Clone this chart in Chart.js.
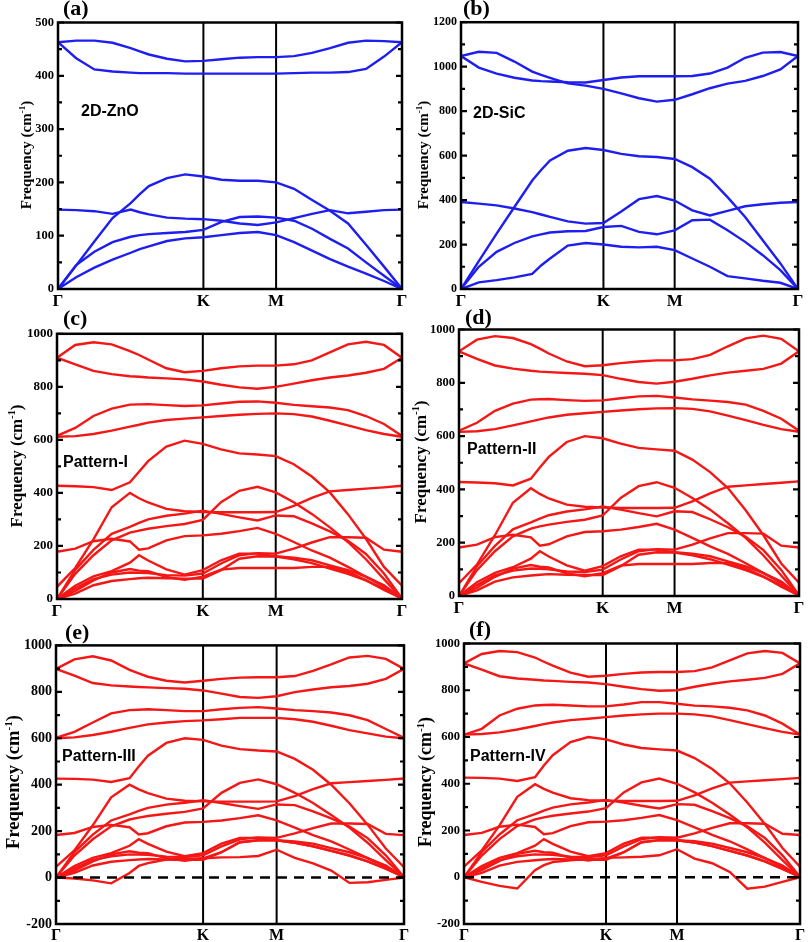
<!DOCTYPE html>
<html><head><meta charset="utf-8">
<script src="https://cdn.jsdelivr.net/npm/chart.js@4.4.1/dist/chart.umd.min.js"></script>
<style>
html,body{margin:0;padding:0;background:#fff;}
body{position:relative;width:808px;height:942px;overflow:hidden;}
canvas{position:absolute;}
.t{position:absolute;white-space:nowrap;line-height:1;color:#000;}
.pl{font-family:'Liberation Serif','Times New Roman',serif;font-weight:bold;}
.il{font-family:'Liberation Sans',Arial,sans-serif;font-weight:bold;}
.yt{font-family:'Liberation Serif','Times New Roman',serif;font-weight:bold;transform:translate(-50%,-50%) rotate(-90deg);}
</style></head><body>
<script>
// ---- k-path sample positions (Γ=0, K=1, M=1.5, Γ=2.366) ----
const XPOS = [0,0.125,0.25,0.375,0.5,0.5625,0.625,0.75,0.875,1, 1.125,1.25,1.375,1.5, 1.6237,1.7474,1.8711,1.9949,2.1186,2.2423,2.366];
const X_TICK_POS = [0, 1, 1.5, 2.366];
const X_TICK_LABELS = ['Γ','K','M','Γ'];

// ---- (a) 2D-ZnO ----
const zno1 = [463,466,466,462,452,446,440,432,427,428, 431,434,435,435, 437,443,452,462,466,465,463];
const zno2 = [463,433,412,408,406,405,405,405,404,404, 404,404,404,404, 405,406,406,407,413,436,463];
const zno3 = [0,44,89,133,161,178,193,208,215,211, 205,203,203,200, 188,167,147,123,83,42,0];
const zno4 = [149,148,146,141,149,144,140,134,132,131, 128,123,120,125, 133,141,148,142,145,148,149];
const zno5 = [0,45,70,88,98,101,103,105,107,111, 126,135,136,134, 128,113,94,76,50,25,0];
const zno6 = [0,22,40,55,68,75,80,90,95,97, 101,105,107,101, 88,72,56,42,29,15,0];

// ---- (b) 2D-SiC ----
const sic1 = [1048,1067,1062,1023,978,963,950,925,915,900, 880,858,843,851, 876,903,924,936,958,988,1048];
const sic2 = [1048,996,969,950,938,935,933,930,929,940, 951,957,957,957, 958,969,996,1040,1063,1066,1048];
const sic3 = [0,125,249,369,488,535,578,622,634,625, 608,597,594,585, 548,496,413,324,219,115,0];
const sic4 = [391,384,376,362,346,335,324,304,294,297, 349,404,418,398, 354,331,351,372,381,388,391];
const sic5 = [0,100,167,207,237,246,254,260,261,279, 284,257,246,264, 309,312,264,212,152,85,0];
const sic6 = [0,30,40,52,68,106,137,195,207,200, 190,187,190,175, 137,100,58,48,37,28,0];

// ---- (c) Pattern-I ----
const p1_1 = [910,958,968,960,935,920,903,870,855,860, 870,877,880,880, 885,900,930,960,970,958,910];
const p1_2 = [910,885,860,848,840,838,835,832,828,820, 808,798,793,800, 812,825,835,843,853,868,910];
const p1_3 = [615,645,690,718,733,734,735,731,728,730, 737,744,745,740, 732,727,722,712,690,660,615];
const p1_4 = [612,614,622,635,650,657,665,675,680,685, 690,695,698,700, 697,688,672,655,637,622,612];
const p1_5 = [427,425,422,411,440,480,520,575,597,585, 564,549,545,539, 508,462,402,320,227,121,50];
const p1_6 = [46,117,225,346,400,380,364,340,331,328, 327,327,327,328, 351,381,406,411,416,421,427];
const p1_7 = [0,110,185,246,272,287,300,314,322,333, 321,308,296,315, 312,285,255,220,170,96,2];
const p1_8 = [0,95,165,221,250,258,265,275,283,298, 365,408,423,402, 365,321,270,215,150,75,2];
const p1_9 = [178,190,218,227,217,186,191,221,237,240, 246,256,268,246, 215,183,156,121,84,46,2];
const p1_10 = [0,50,85,105,137,165,145,112,92,109, 146,171,171,161, 156,146,127,109,84,52,2];
const p1_11 = [0,30,70,100,113,107,105,83,72,84, 111,117,117,117, 117,121,121,102,71,34,2];
const p1_12 = [0,20,52,68,75,78,80,78,77,77, 109,152,161,160, 150,135,115,95,70,38,2];
const p1_13 = [0,40,75,92,100,99,98,90,88,96, 134,165,173,171, 190,213,233,233,231,186,178];

// ---- (d) Pattern-II ----
const p2_1 = [918,962,975,968,945,928,910,880,862,866, 874,880,884,884, 889,905,937,967,977,965,918];
const p2_2 = [918,890,865,853,845,842,840,837,834,829, 815,803,797,804, 815,828,838,845,852,872,918];
const p2_3 = [620,650,695,722,737,738,739,735,732,734, 742,749,751,745, 738,733,728,718,695,665,620];
const p2_4 = [616,618,626,640,655,663,670,680,686,691, 696,701,704,705, 702,693,677,660,642,626,616];
const p2_5 = [428,426,423,415,440,482,522,578,600,592, 572,556,550,545, 512,465,405,322,228,122,50];
const p2_6 = [48,118,228,350,404,383,366,343,335,332, 330,330,330,331, 355,385,410,415,420,425,430];
const p2_7 = [0,112,188,250,276,290,303,317,325,336, 324,311,299,318, 315,288,258,222,172,98,2];
const p2_8 = [0,97,168,224,253,261,268,278,286,302, 368,412,427,406, 368,324,273,218,152,77,2];
const p2_9 = [182,193,221,230,220,189,194,224,240,243, 249,259,271,249, 218,186,158,123,86,48,2];
const p2_10 = [0,52,87,108,140,168,148,115,95,112, 149,174,174,164, 159,149,130,111,86,54,2];
const p2_11 = [0,31,72,103,116,110,107,85,74,86, 114,120,120,120, 120,124,124,104,73,35,2];
const p2_12 = [0,21,54,70,77,80,82,80,79,79, 112,155,164,163, 153,138,118,97,72,40,2];
const p2_13 = [0,41,77,95,103,102,100,92,90,99, 137,168,176,174, 193,216,236,236,234,189,182];

// ---- (e) Pattern-III ----
const p3_1 = [899,940,953,935,895,880,865,848,840,848, 856,861,863,863, 868,890,918,948,955,942,899];
const p3_2 = [899,870,838,828,823,821,819,816,813,806, 792,778,774,781, 799,810,820,825,835,856,899];
const p3_3 = [602,628,668,707,721,723,725,721,717,717, 725,731,734,728, 721,717,711,699,678,640,602];
const p3_4 = [600,604,614,628,645,652,660,668,674,677, 682,688,688,688, 682,671,654,635,621,607,600];
const p3_5 = [426,425,422,412,428,478,525,580,600,593, 568,553,547,543, 511,464,400,320,228,125,45];
const p3_6 = [46,117,225,346,400,380,364,340,331,328, 327,327,327,328, 351,381,406,411,416,421,427];
const p3_7 = [0,110,185,246,272,287,300,314,322,333, 321,308,296,315, 312,285,255,220,170,96,2];
const p3_8 = [0,95,165,221,250,258,265,275,283,298, 365,408,423,402, 365,321,270,215,150,75,2];
const p3_9 = [183,192,218,227,217,186,191,221,237,240, 246,256,268,246, 215,183,156,121,84,46,2];
const p3_10 = [0,50,85,105,137,165,145,112,92,105, 146,171,171,161, 156,146,127,109,84,52,2];
const p3_11 = [0,30,70,100,113,107,105,83,72,83, 87,88,93,120, 85,61,30,-23,-20,-10,0];
const p3_12 = [0,20,52,68,75,78,80,78,77,77, 109,152,161,160, 150,135,115,95,70,38,2];
const p3_13 = [0,40,75,92,100,99,98,90,88,96, 134,165,173,171, 190,213,233,233,231,188,183];
const p3_14 = [0,-4,-12,-25,20,50,62,78,80,83, 109,152,161,160, 150,135,115,95,70,38,2];

// ---- (f) Pattern-IV ----
const p4_1 = [915,955,968,963,940,922,905,875,858,862, 870,876,878,878, 882,898,928,958,968,960,915];
const p4_2 = [915,888,860,850,845,842,840,836,833,826, 815,805,798,800, 815,828,838,845,853,870,915];
const p4_3 = [610,635,692,721,735,737,738,735,731,731, 739,749,749,742, 734,731,725,714,692,657,610];
const p4_4 = [610,613,620,632,647,655,662,672,678,685, 692,697,700,700, 697,688,672,655,638,622,610];
const p4_5 = [426,425,422,412,428,478,522,578,600,590, 568,553,547,542, 510,463,402,320,228,125,45];
const p4_6 = [45,115,222,344,398,378,362,338,330,327, 326,326,326,327, 350,380,405,410,415,420,425];
const p4_7 = [0,108,183,244,270,285,298,312,320,331, 319,306,294,313, 310,283,253,218,168,94,2];
const p4_8 = [0,93,163,219,248,256,263,273,281,296, 363,406,422,400, 363,319,268,213,148,73,2];
const p4_9 = [181,190,216,225,215,184,189,219,235,238, 244,254,266,244, 213,181,154,119,82,44,2];
const p4_10 = [0,48,83,103,135,163,143,110,90,103, 144,169,169,159, 154,144,125,107,82,50,2];
const p4_11 = [0,30,70,100,113,107,105,83,72,83, 85,88,94,120, 80,60,23,-49,-40,-20,0];
const p4_12 = [0,19,50,66,73,76,78,76,75,75, 107,150,159,158, 148,133,113,93,68,36,2];
const p4_13 = [0,39,73,90,98,97,96,88,86,94, 132,163,171,169, 188,211,231,231,229,186,181];
const p4_14 = [0,-20,-37,-48,30,52,65,73,78,80, 107,150,159,158, 148,133,113,93,68,36,2];

const BLUE = 'rgb(30,30,240)';
const RED = 'rgb(245,22,22)';

const PANELS = [
  {bands:[zno1,zno2,zno3,zno4,zno5,zno6], color:BLUE, ymin:0, ymax:500, step:100, minor:50,
   area:{l:58,r:402,t:21,b:289}, tick:12.5, xlab:17, zero:false},
  {bands:[sic1,sic2,sic3,sic4,sic5,sic6], color:BLUE, ymin:0, ymax:1200, step:200, minor:100,
   area:{l:461,r:798,t:21,b:289}, tick:12, xlab:17, zero:false},
  {bands:[p1_1,p1_2,p1_3,p1_4,p1_5,p1_6,p1_7,p1_8,p1_9,p1_10,p1_11,p1_12,p1_13], color:RED, ymin:0, ymax:1000, step:200, minor:100,
   area:{l:57,r:402,t:332,b:599}, tick:13, xlab:17, zero:false},
  {bands:[p2_1,p2_2,p2_3,p2_4,p2_5,p2_6,p2_7,p2_8,p2_9,p2_10,p2_11,p2_12,p2_13], color:RED, ymin:0, ymax:1000, step:200, minor:100,
   area:{l:459,r:799,t:328,b:596}, tick:12.5, xlab:17, zero:false},
  {bands:[p3_1,p3_2,p3_3,p3_4,p3_5,p3_6,p3_7,p3_8,p3_9,p3_10,p3_11,p3_12,p3_13,p3_14], color:RED, ymin:-200, ymax:1000, step:200, minor:100,
   area:{l:56,r:404,t:643,b:924}, tick:14, xlab:16, zero:true},
  {bands:[p4_1,p4_2,p4_3,p4_4,p4_5,p4_6,p4_7,p4_8,p4_9,p4_10,p4_11,p4_12,p4_13,p4_14], color:RED, ymin:-200, ymax:1000, step:200, minor:100,
   area:{l:464,r:800,t:642,b:924}, tick:12.5, xlab:16, zero:true}
];

const deco = {
  id:'deco',
  beforeDatasetsDraw(chart){
    const {ctx, chartArea:a, scales:{x}} = chart;
    ctx.save(); ctx.strokeStyle='#000'; ctx.lineWidth=2;
    [X_TICK_POS[1], X_TICK_POS[2]].forEach(v=>{
      const px = x.getPixelForValue(v);
      ctx.beginPath(); ctx.moveTo(px,a.top); ctx.lineTo(px,a.bottom); ctx.stroke();
    });
    ctx.restore();
  },
  afterDatasetsDraw(chart, args, o){
    const {ctx, chartArea:a, scales:{y}} = chart;
    ctx.save();
    ctx.strokeStyle='#000';
    if (o.zero){
      const py = y.getPixelForValue(0);
      ctx.lineWidth=2.5; ctx.setLineDash([10,7]);
      ctx.beginPath(); ctx.moveTo(a.left,py); ctx.lineTo(a.right,py); ctx.stroke();
      ctx.setLineDash([]);
    }
    ctx.lineWidth=2.2;
    const n = Math.round((y.max - y.min)/o.minor);
    for (let i=0;i<=n;i++){
      const v = y.min + i*o.minor;
      const py = y.getPixelForValue(v);
      const L = (i%2===0) ? 6 : 4;
      ctx.beginPath();
      ctx.moveTo(a.left,py); ctx.lineTo(a.left+L,py);
      ctx.moveTo(a.right,py); ctx.lineTo(a.right-L,py);
      ctx.stroke();
    }
    ctx.lineWidth=2.5;
    ctx.strokeRect(a.left,a.top,a.right-a.left,a.bottom-a.top);
    ctx.restore();
  }
};

function makePanel(p){
  const YW=50, XH=28, PT=10, PR=8;
  const w = p.area.r - p.area.l + YW + PR;
  const h = p.area.b - p.area.t + PT + XH;
  const cv = document.createElement('canvas');
  cv.width=w; cv.height=h;
  cv.style.left=(p.area.l-YW)+'px'; cv.style.top=(p.area.t-PT)+'px';
  cv.style.width=w+'px'; cv.style.height=h+'px';
  document.body.appendChild(cv);
  new Chart(cv, {
    type:'line',
    data:{datasets: p.bands.map(b=>({
      data: b.map((v,i)=>({x:XPOS[i], y:v})),
      borderColor:p.color, borderWidth:2.4, pointRadius:0, tension:0, fill:false
    }))},
    options:{
      responsive:false, animation:false, devicePixelRatio:1,
      layout:{padding:{left:0,top:PT,right:PR,bottom:0}},
      plugins:{legend:{display:false}, tooltip:{enabled:false}, deco:{zero:p.zero, minor:p.minor}},
      scales:{
        x:{type:'linear', min:0, max:X_TICK_POS[3],
           grid:{display:false, drawTicks:false}, border:{display:false},
           afterBuildTicks:s=>{ s.ticks = X_TICK_POS.map(v=>({value:v})); },
           afterFit:s=>{ s.height = XH; },
           ticks:{autoSkip:false, maxRotation:0, minRotation:0, padding:2, color:'#000',
                  font:{family:"'Liberation Serif', serif", weight:'bold', size:p.xlab},
                  callback:(v,i)=>X_TICK_LABELS[i]}},
        y:{type:'linear', min:p.ymin, max:p.ymax,
           grid:{display:false, drawTicks:false}, border:{display:false},
           afterFit:s=>{ s.width = YW; },
           ticks:{stepSize:p.step, padding:4, color:'#000',
                  font:{family:"'Liberation Serif', serif", weight:'bold', size:p.tick},
                  callback:v=>String(v)}}
      }
    },
    plugins:[deco]
  });
}
PANELS.forEach(makePanel);

// ---- text ----
function addText(txt, cls, x, baseline, size, k){
  const d=document.createElement('div'); d.className='t '+cls; d.textContent=txt;
  d.style.fontSize=size+'px'; d.style.left=x+'px'; d.style.top=(baseline-k*size)+'px';
  document.body.appendChild(d);
}
function addYTitle(cx, cy, size){
  const d=document.createElement('div'); d.className='t yt'; d.style.fontSize=size+'px';
  d.style.left=(cx-0.1*size)+'px'; d.style.top=cy+'px';
  d.innerHTML='Frequency (cm<span style="font-size:0.6em;position:relative;top:-0.65em">-1</span>)';
  document.body.appendChild(d);
}
const SERIF_K=0.8375, SANS_K=0.8465;
[['(a)',63,15.5],['(b)',463,15.5],['(c)',63,325.5],['(d)',465,324],['(e)',65,639],['(f)',469,636]]
  .forEach(([t,x,b])=>addText(t,'pl',x,b,22,SERIF_K));
[['2D-ZnO',81,116.7],['2D-SiC',473,118.3],['Pattern-I',63,468],['Pattern-II',467,455],['Pattern-III',62,761.5],['Pattern-IV',470,761.5]]
  .forEach(([t,x,b])=>addText(t,'il',x,b,16,SANS_K));
[[27.5,155,15],[424,155,15],[17.5,465.5,17],[421.5,462,17],[14.5,782,18.5],[426.5,782,18]]
  .forEach(([x,y,s])=>addYTitle(x,y,s));
</script></body></html>
